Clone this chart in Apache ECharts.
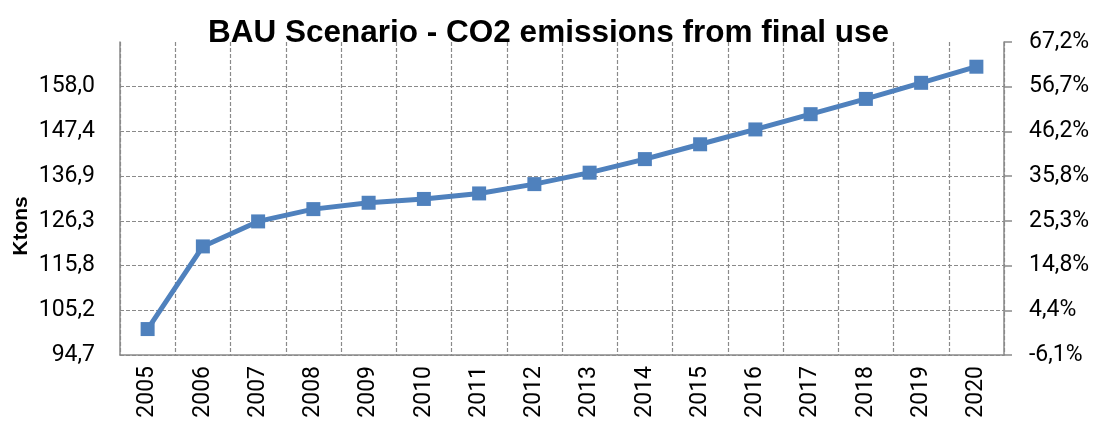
<!DOCTYPE html>
<html>
<head>
<meta charset="utf-8">
<title>BAU Scenario - CO2 emissions from final use</title>
<script src="https://cdn.jsdelivr.net/npm/echarts@6/dist/echarts.min.js"></script>
<style>
  html, body { margin: 0; padding: 0; background: #ffffff; }
  #chart { width: 1097px; height: 425px; }
</style>
</head>
<body>
<div id="chart"></div>
<script>
// Yearly CO2 emissions from final use, business-as-usual scenario (Ktons)
const years = ['2005', '2006', '2007', '2008', '2009', '2010', '2011', '2012',
               '2013', '2014', '2015', '2016', '2017', '2018', '2019', '2020'];
const emissions = [100.8, 120.3, 126.2, 129.1, 130.6, 131.5, 132.8, 135.0,
                   137.7, 140.9, 144.4, 147.9, 151.5, 155.1, 158.9, 162.7];

// Left axis ticks (Ktons) and right axis ticks (% change vs 2005)
const ktonTicks = [94.68, 105.23, 115.78, 126.33, 136.88, 147.43, 157.98, 168.53];
const pctTicks = [-6.09, 4.375, 14.84, 25.305, 35.77, 46.235, 56.7, 67.165];

const GRID_COLOR = '#8a8a8a';
const LINE_COLOR = '#4f81bd';
const FONT = 'Roboto';

const fmtComma = v => v.toFixed(1).replace('.', ',');

const chart = echarts.init(document.getElementById('chart'), null, { renderer: 'canvas' });

chart.setOption({
  animation: false,
  backgroundColor: '#ffffff',
  title: {
    text: 'BAU Scenario - CO2 emissions from final use',
    left: 'center',
    top: 12,
    textStyle: {
      fontFamily: 'Liberation Sans',
      fontWeight: 'bold',
      fontSize: 31.5,
      color: '#000000'
    }
  },
  // rotated unit label for the left axis
  graphic: [
    {
      type: 'text',
      x: 21,
      y: 226,
      rotation: Math.PI / 2,
      style: {
        text: 'Ktons',
        x: 0,
        y: 0,
        align: 'center',
        verticalAlign: 'middle',
        fontFamily: 'Liberation Sans',
        fontWeight: 'bold',
        fontSize: 21,
        fill: '#000000'
      }
    }
  ],
  grid: { left: 120, right: 93, top: 42, bottom: 70, outerBoundsMode: 'none', containLabel: false },
  xAxis: {
    type: 'category',
    data: years,
    boundaryGap: true,
    axisLine: { show: true, onZero: false, lineStyle: { color: GRID_COLOR, width: 1.5 } },
    axisTick: { show: false, interval: 0 },
    axisLabel: {
      interval: 0,
      rotate: 90,
      margin: 11,
      fontFamily: FONT,
      fontSize: 23,
      color: '#000000'
    },
    splitLine: {
      show: true,
      interval: 0,
      lineStyle: { color: GRID_COLOR, width: 1.2, type: [4, 2] }
    }
  },
  yAxis: [
    {
      type: 'value',
      position: 'left',
      min: ktonTicks[0],
      max: ktonTicks[ktonTicks.length - 1],
      axisLine: { show: true, onZero: false, lineStyle: { color: GRID_COLOR, width: 1.5 } },
      axisTick: { show: false, customValues: ktonTicks.slice(0, 7) },
      axisLabel: {
        customValues: ktonTicks.slice(0, 7),
        margin: 25,
        fontFamily: FONT,
        fontSize: 23,
        color: '#000000',
        formatter: v => fmtComma(v)
      },
      splitLine: {
        show: true,
        lineStyle: { color: GRID_COLOR, width: 1.2, type: [4, 2] }
      }
    },
    {
      type: 'value',
      position: 'right',
      min: pctTicks[0],
      max: pctTicks[pctTicks.length - 1],
      axisLine: { show: true, onZero: false, lineStyle: { color: GRID_COLOR, width: 1.5 } },
      axisTick: {
        show: true,
        inside: false,
        length: 8,
        customValues: pctTicks,
        lineStyle: { color: GRID_COLOR, width: 1.5 }
      },
      axisLabel: {
        customValues: pctTicks,
        margin: 25,
        fontFamily: FONT,
        fontSize: 23,
        color: '#000000',
        formatter: v => fmtComma(v) + '%'
      },
      splitLine: { show: false }
    }
  ],
  series: [
    {
      name: 'CO2 emissions',
      type: 'line',
      yAxisIndex: 0,
      data: emissions,
      symbol: 'rect',
      symbolSize: 14,
      lineStyle: { color: LINE_COLOR, width: 5 },
      itemStyle: { color: LINE_COLOR },
      z: 5
    }
  ]
});
</script>
</body>
</html>
